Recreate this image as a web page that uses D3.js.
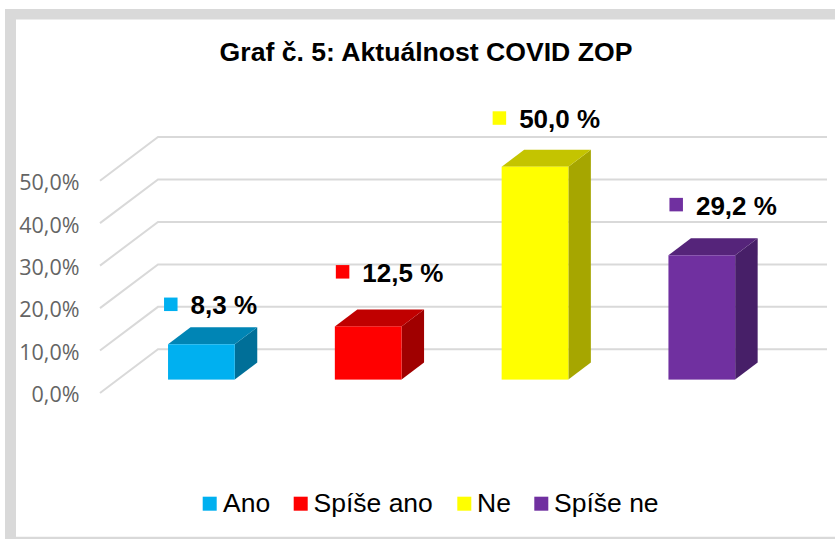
<!DOCTYPE html>
<html><head><meta charset="utf-8">
<script src="https://cdn.jsdelivr.net/npm/d3@7"></script>
<style>html,body{margin:0;padding:0;background:#fff;overflow:hidden}svg{display:block}</style>
</head><body><svg id="c" width="835" height="539"></svg>
<script>
const titleText = "Graf č. 5: Aktuálnost COVID ZOP";
const categories = ["Ano","Spíše ano","Ne","Spíše ne"];
const values = [8.3,12.5,50.0,29.2];
const labels = ["8,3 %","12,5 %","50,0 %","29,2 %"];
const faceColors = ["#00b0f0","#ff0000","#ffff00","#7030a0"];
const topColors = ["#0085b5","#c00000","#c4c400","#55247a"];
const sideColors = ["#006f98","#a00000","#a6a600","#471f68"];
const ticks = [0,10,20,30,40,50];
const labelDX = [-4,1,-9,1];
const labelDY = [-23,-37.6,-31.7,-33.7];

const svg = d3.select("#c");
const FONT = "'Liberation Sans', Arial, sans-serif";
svg.append("path").attr("fill","#d9d9d9").attr("fill-rule","evenodd")
  .attr("d","M5,9H835V539H5Z M16,19.5H835V536.7H16Z");

const y = d3.scaleLinear().domain([0,50]).range([393,180.7]);
const yBar = d3.scaleLinear().domain([0,50]).range([379.6,166.7]);
const x = d3.scaleBand().domain(categories).range([118,785.2]).paddingInner(0.6).paddingOuter(0.3);
const dX = 58, dY = -43.7, gridEnd = 827;
const barDX = 22.5, barDY = -17;

const grid = svg.append("g").attr("fill","none").attr("stroke","#d9d9d9").attr("stroke-width",2);
grid.selectAll("path").data(ticks).join("path")
  .attr("d",d=>`M100,${y(d)}L${100+dX},${y(d)+dY}H${gridEnd}`);

const axis = d3.axisLeft(y).tickValues(ticks).tickSize(0).tickPadding(0)
  .tickFormat(d=>d3.format(".1f")(d).replace(".",",")+"%");
const ag = svg.append("g").attr("transform","translate(79.5,2)").call(axis);
ag.select(".domain").remove();
ag.selectAll("text").attr("font-family","'Open Sans', sans-serif").attr("font-size",21.5).attr("fill","#646464");

const bars = svg.append("g").selectAll("g").data(categories).join("g");
bars.each(function(c,i){
  const g = d3.select(this);
  const x0 = x(c), x1 = x0 + x.bandwidth(), t = yBar(values[i]), b = yBar(0);
  g.append("path").attr("fill",sideColors[i])
    .attr("d",`M${x1},${t}L${x1+barDX},${t+barDY}V${b+barDY}L${x1},${b}Z`);
  g.append("path").attr("fill",topColors[i])
    .attr("d",`M${x0},${t}L${x0+barDX},${t+barDY}H${x1+barDX}L${x1},${t}Z`);
  g.append("rect").attr("x",x0).attr("y",t).attr("width",x.bandwidth()).attr("height",b-t).attr("fill",faceColors[i]);
  const ly = t + barDY + labelDY[i], lx = x0 + labelDX[i];
  g.append("rect").attr("x",lx).attr("y",ly-6.7).attr("width",13.5).attr("height",13.5).attr("fill",faceColors[i]);
  g.append("text").text(labels[i]).attr("x",lx+26.5).attr("y",ly+10)
    .attr("font-family",FONT).attr("font-weight","bold").attr("font-size",26).attr("fill","#000");
});

svg.append("text").text(titleText).attr("x",426).attr("y",61).attr("text-anchor","middle")
  .attr("font-family",FONT).attr("font-weight","bold").attr("font-size",26.6).attr("fill","#000");

const legendSwatchX = [202.7,293.7,457.3,534.3];
const legendTextX = [223,313.5,477,554];
const lg = svg.append("g").selectAll("g").data(categories).join("g");
lg.append("rect").attr("x",(d,i)=>legendSwatchX[i]).attr("y",496.7).attr("width",14).attr("height",14).attr("fill",(d,i)=>faceColors[i]);
lg.append("text").text(d=>d).attr("x",(d,i)=>legendTextX[i]).attr("y",511.7)
  .attr("font-family",FONT).attr("font-size",26.5).attr("fill","#000");
</script></body></html>
